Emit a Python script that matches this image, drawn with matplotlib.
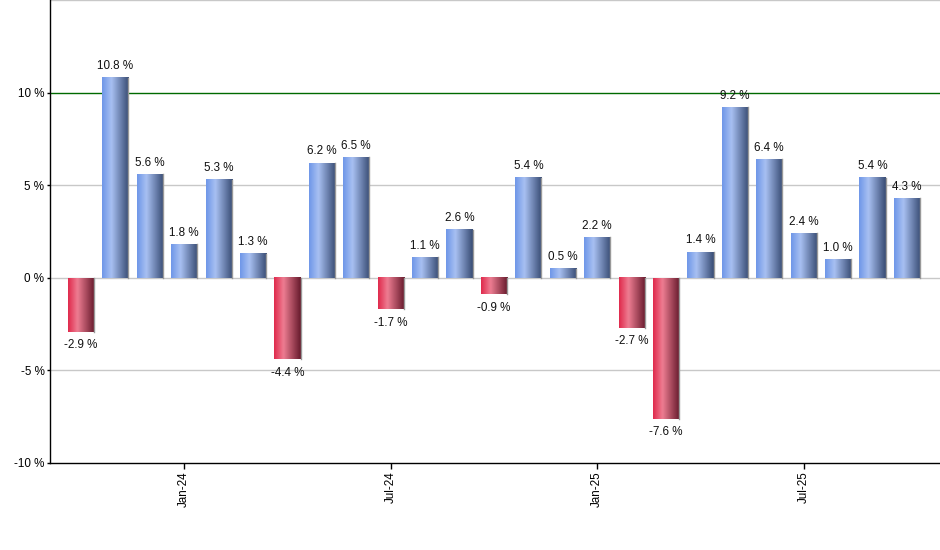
import matplotlib
matplotlib.use("Agg")
import matplotlib.pyplot as plt
import numpy as np
from matplotlib.colors import LinearSegmentedColormap

months = ["Oct-23", "Nov-23", "Dec-23", "Jan-24", "Feb-24", "Mar-24", "Apr-24", "May-24",
          "Jun-24", "Jul-24", "Aug-24", "Sep-24", "Oct-24", "Nov-24", "Dec-24", "Jan-25",
          "Feb-25", "Mar-25", "Apr-25", "May-25", "Jun-25", "Jul-25", "Aug-25", "Sep-25", "Oct-25"]
values = [-2.9, 10.8, 5.6, 1.8, 5.3, 1.3, -4.4, 6.2, 6.5, -1.7, 1.1, 2.6, -0.9, 5.4, 0.5,
          2.2, -2.7, -7.6, 1.4, 9.2, 6.4, 2.4, 1.0, 5.4, 4.3]
tick_labels = ["Jan-24", "Jul-24", "Jan-25", "Jul-25"]
yticks = [-10, -5, 0, 5, 10]

plt.rcParams['font.family'] = ['Liberation Sans', 'DejaVu Sans']

fig = plt.figure(figsize=(9.4, 5.5), dpi=100)
ax = fig.add_axes([50 / 940, 1 - 463 / 550, 890 / 940, 463 / 550])

blue = LinearSegmentedColormap.from_list("b", [(0, "#6F97E8"), (0.35, "#A8C0F2"), (1, "#384C74")])
red = LinearSegmentedColormap.from_list("r", [(0, "#E02A4C"), (0.35, "#EE7D92"), (1, "#661A2C")])
grad = np.linspace(0, 1, 64).reshape(1, -1)

w = 0.76
x = np.arange(len(values))
for xi, v in zip(x, values):
    cm = blue if v >= 0 else red
    lo, hi = (0, v) if v >= 0 else (v, 0)
    ax.imshow(grad, cmap=cm, extent=[xi - w / 2, xi + w / 2, lo, hi], aspect='auto',
              interpolation='bicubic', zorder=3)
    ax.plot([xi + w / 2, xi + w / 2], [lo, hi], color="#999999", lw=1, zorder=3.5)
    if v >= 0:
        ax.annotate(f"{v:.1f} %", (xi, v), xytext=(0, 4), textcoords='offset points',
                    ha='center', va='bottom', fontsize=8.4, color='#111111', zorder=5)
    else:
        ax.annotate(f"{v:.1f} %", (xi, v), xytext=(0, -5.5), textcoords='offset points',
                    ha='center', va='top', fontsize=8.4, color='#111111', zorder=5)

ax.set_xlim(-0.9, 24.96)
ax.set_ylim(-10, 15)

for g in [-5, 0, 5, 15]:
    ax.axhline(g, color="#C8C8C8", lw=1, zorder=1)
ax.axhline(10, color="#006A00", lw=1, zorder=2)

ax.set_yticks(yticks)
ax.set_yticklabels([f"{t} %" for t in yticks], fontsize=8.4)
tick_pos = [months.index(t) for t in tick_labels]
ax.set_xticks(tick_pos)
ax.set_xticklabels(tick_labels, rotation=90, fontsize=8.4)
ax.tick_params(axis='x', direction='out', length=4, width=1, color='black', pad=2)
ax.tick_params(axis='y', direction='out', length=2, width=1, color='black', pad=2)

for s in ['top', 'right']:
    ax.spines[s].set_visible(False)
ax.spines['left'].set_color('black')
ax.spines['bottom'].set_color('black')
ax.spines['left'].set_linewidth(1)
ax.spines['bottom'].set_linewidth(1)

fig.savefig("out.png", dpi=100)
